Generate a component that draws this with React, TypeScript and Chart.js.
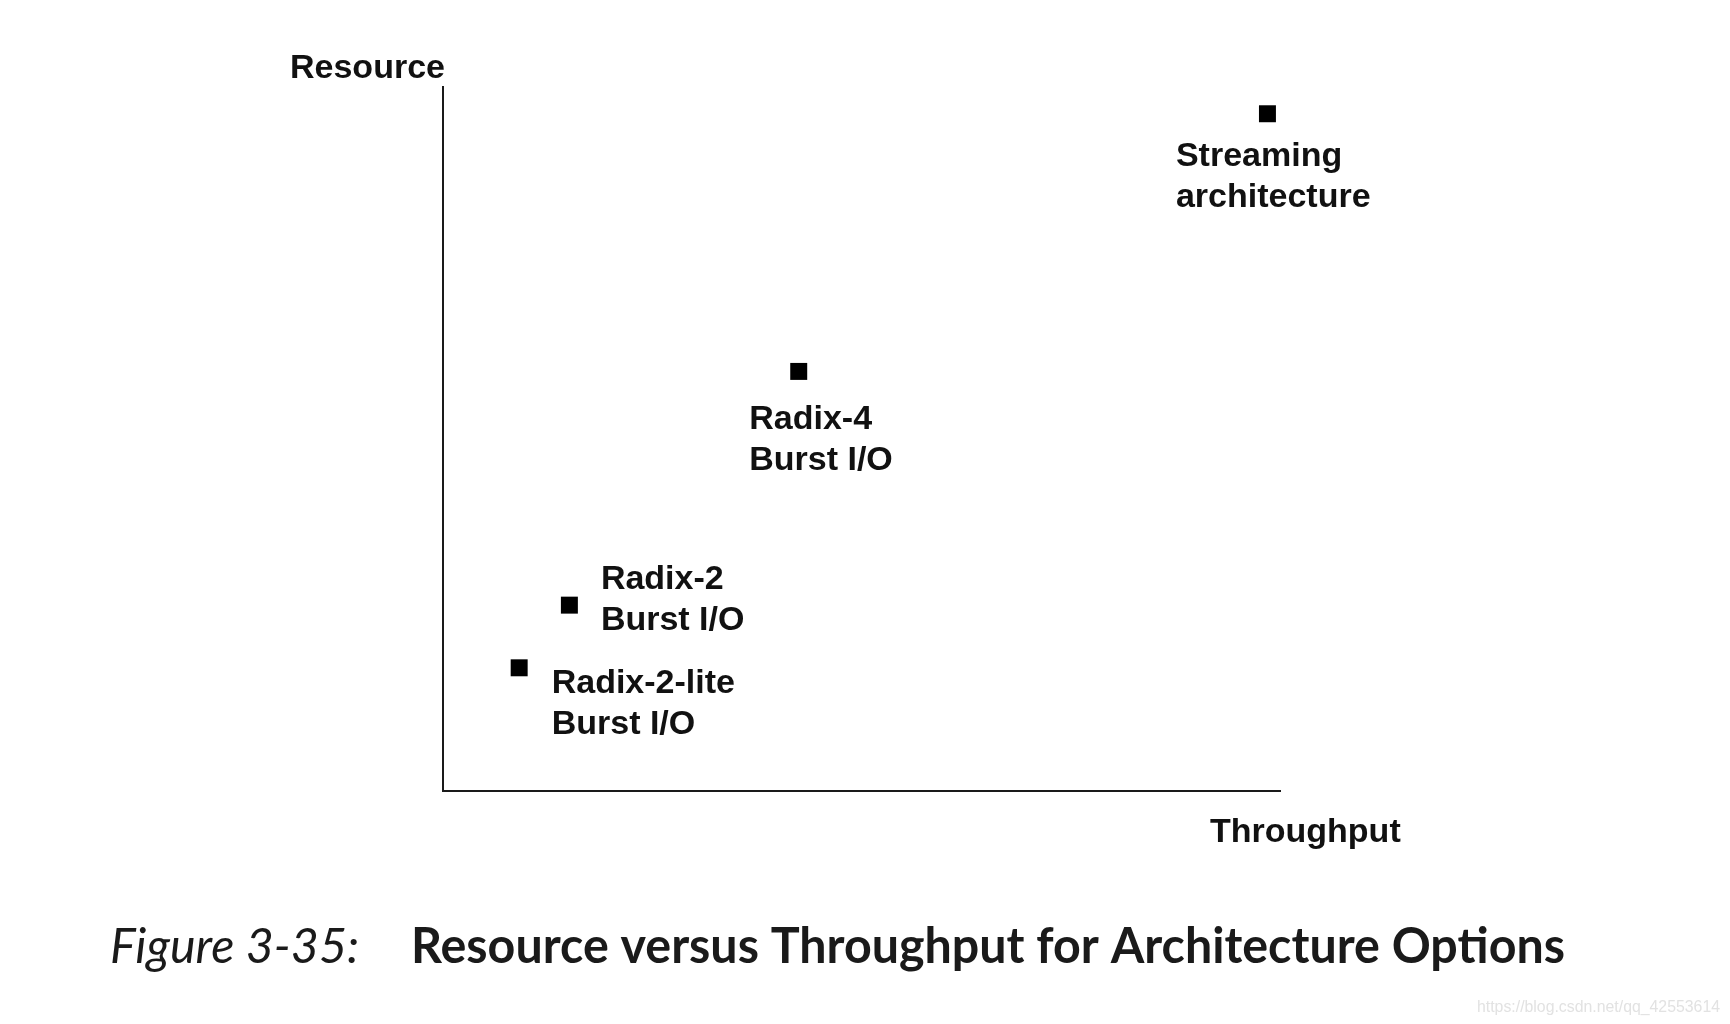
import React, { useEffect, useRef } from "react";
import { Chart, registerables } from "chart.js";

Chart.register(...registerables);

// ---- Data ----
const architectures: string[][] = [
  ["Streaming", "architecture"],
  ["Radix-4", "Burst I/O"],
  ["Radix-2", "Burst I/O"],
  ["Radix-2-lite", "Burst I/O"],
];
const throughputValues: number[] = [98.5, 42.5, 15.1, 9.1];
const resourceValues: number[] = [96.2, 59.6, 26.4, 17.5];

const yAxisTitle = "Resource";
const xAxisTitle = "Throughput";
const captionLabel = "Figure 3-35:";
const captionTitle = "Resource versus Throughput for Architecture Options";
const watermarkText = "https://blog.csdn.net/qq_42553614";

// label placement relative to each marker (dx to text left, dy to first baseline)
const LABEL_OFFSETS: [number, number][] = [
  [-91.5, 52.5],
  [-49.5, 57.5],
  [31.5, -16],
  [32.5, 25.5],
];

const LABEL_FONT = "bold 34px 'Liberation Sans', Arial, sans-serif";
const LINE_GAP = 41;

const annotationPlugin = {
  id: "figureAnnotations",
  afterDraw(chart: any) {
    const ctx: CanvasRenderingContext2D = chart.ctx;
    const area = chart.chartArea;
    const meta = chart.getDatasetMeta(0);
    ctx.save();
    ctx.fillStyle = "#111";
    ctx.textAlign = "left";
    ctx.textBaseline = "alphabetic";
    ctx.font = LABEL_FONT;

    // point labels
    meta.data.forEach((pt: any, i: number) => {
      const [dx, dy] = LABEL_OFFSETS[i];
      architectures[i].forEach((line, j) => {
        ctx.fillText(line, pt.x + dx, pt.y + dy + j * LINE_GAP);
      });
    });

    // axis titles
    ctx.fillText(yAxisTitle, area.left - 153, area.top - 9);
    ctx.fillText(xAxisTitle, area.right - 70, area.bottom + 51);

    // caption
    ctx.fillStyle = "#1a1a1a";
    ctx.font = "italic 49px Lato, 'Open Sans', sans-serif";
    ctx.fillText(captionLabel, 110, 963, 249);
    ctx.font = "bold 49px Lato, 'Open Sans', sans-serif";
    ctx.fillText(captionTitle, 411, 963, 1154);

    // watermark
    ctx.fillStyle = "#e2e2e2";
    ctx.font = "16px 'Liberation Sans', Arial, sans-serif";
    ctx.fillText(watermarkText, 1477, 1012, 243);
    ctx.restore();
  },
};

export default function App() {
  const canvasRef = useRef<HTMLCanvasElement | null>(null);

  useEffect(() => {
    if (!canvasRef.current) return;
    const chart = new Chart(canvasRef.current, {
      type: "scatter",
      data: {
        datasets: [
          {
            label: "Architectures",
            data: throughputValues.map((x, i) => ({ x, y: resourceValues[i] })),
            pointStyle: "rect",
            pointRadius: 12,
            pointHoverRadius: 12,
            pointBorderWidth: 0,
            backgroundColor: "#000",
            borderColor: "#000",
            clip: false as any,
          },
        ],
      },
      options: {
        responsive: false,
        animation: false,
        events: [],
        layout: { padding: { left: 443, right: 450, top: 87, bottom: 233 } },
        plugins: {
          legend: { display: false },
          tooltip: { enabled: false },
          title: { display: false },
        },
        scales: {
          x: {
            type: "linear",
            min: 0,
            max: 100,
            grid: { display: false, drawTicks: false },
            ticks: { display: false },
            border: { display: true, color: "#1a1a1a", width: 2 },
            afterFit: (s: any) => {
              s.height = 0;
            },
          },
          y: {
            type: "linear",
            min: 0,
            max: 100,
            grid: { display: false, drawTicks: false },
            ticks: { display: false },
            border: { display: true, color: "#1a1a1a", width: 2 },
            afterFit: (s: any) => {
              s.width = 0;
            },
          },
        },
      },
      plugins: [annotationPlugin],
    });
    return () => chart.destroy();
  }, []);

  return (
    <div
      style={{
        position: "absolute",
        left: 0,
        top: 0,
        width: 1730,
        height: 1024,
        background: "#fff",
      }}
    >
      <canvas ref={canvasRef} width={1730} height={1024} />
    </div>
  );
}
